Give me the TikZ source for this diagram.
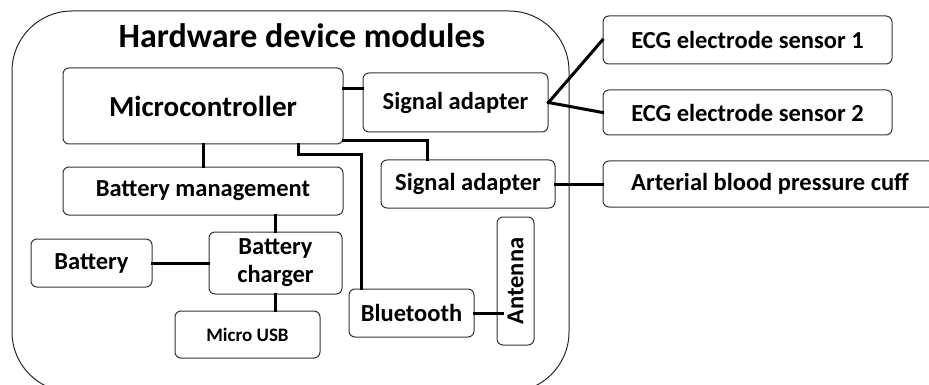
\documentclass[tikz,border=0pt]{standalone}
\usepackage{fontspec}
\setmainfont{Carlito}
\usetikzlibrary{calc}
\tikzset{
  mod/.style={draw=black!80, line width=1pt, rounded corners=6pt, inner sep=0pt,
    align=center, font=\bfseries\fontsize{24.5}{28}\selectfont},
  wire/.style={line width=3pt, line cap=rect},
}
\begin{document}
\begin{tikzpicture}[x=1pt, y=-1pt]
\useasboundingbox (0,0) rectangle (929,385);
% enclosure of the device
\draw[line width=1pt, black!85, rounded corners=60pt] (12,11) rectangle (569,392);
\node[font=\bfseries\fontsize{34}{40}\selectfont] (title) at (302,36) {Hardware device modules};

% modules inside the device
\node[mod, minimum width=280pt, minimum height=76pt, font=\bfseries\fontsize{29}{34}\selectfont] (micro) at (203,106) {Microcontroller};
\node[mod, minimum width=185pt, minimum height=59pt] (sa1) at (455.5,102.5) {Signal adapter};
\node[mod, minimum width=174pt, minimum height=48pt] (sa2) at (468,184) {Signal adapter};
\node[mod, minimum width=280pt, minimum height=48pt] (bm) at (203,191) {Battery management};
\node[mod, minimum width=133pt, minimum height=62pt] (bc) at (275.5,263) {Battery\\charger};
\node[mod, minimum width=121pt, minimum height=48pt] (bat) at (91.5,263) {Battery};
\node[mod, minimum width=145pt, minimum height=47pt, font=\bfseries\fontsize{19}{22}\selectfont] (usb) at (247.5,334.5) {Micro USB};
\node[mod, minimum width=125pt, minimum height=48pt] (bt) at (411.5,313) {Bluetooth};
\node[mod, minimum width=37pt, minimum height=128pt] (ant) at (515.5,281) {};
\node[rotate=90, font=\bfseries\fontsize{24.5}{28}\selectfont] (antlabel) at (ant.center) {Antenna};

% external sensors
\node[mod, minimum width=289pt, minimum height=48pt] (ecg1) at (747.5,40) {ECG electrode sensor 1};
\node[mod, minimum width=289pt, minimum height=45pt] (ecg2) at (747.5,112.5) {ECG electrode sensor 2};
\node[mod, minimum width=332pt, minimum height=46pt] (abp) at (769,184) {};
\node[anchor=west, inner sep=0pt, font=\bfseries\fontsize{24.5}{28}\selectfont] (abplabel) at (631,184) {Arterial blood pressure cuff};

% wiring
\draw[wire] (micro.south) -- (bm.north);
\draw[wire] (micro.east |- 0,89) -- (sa1.west |- 0,89);
\draw[wire] (sa1.east) -- (ecg1.west);
\draw[wire] (sa1.east) -- (ecg2.west);
\draw[wire] (micro.east |- 0,141) -| (sa2.north -| 427,0);
\draw[wire] (micro.south -| 298,0) |- (361,155) -- (bt.north -| 361,0);
\draw[wire] (bm.south -| bc.north) -- (bc.north);
\draw[wire] (bat.east) -- (bc.west);
\draw[wire] (bc.south) -- (usb.north -| bc.south);
\draw[wire] (sa2.east) -- (abp.west);
\draw[wire] (bt.east) -- ([xshift=6pt]ant.west |- bt.east);
\end{tikzpicture}
\end{document}
